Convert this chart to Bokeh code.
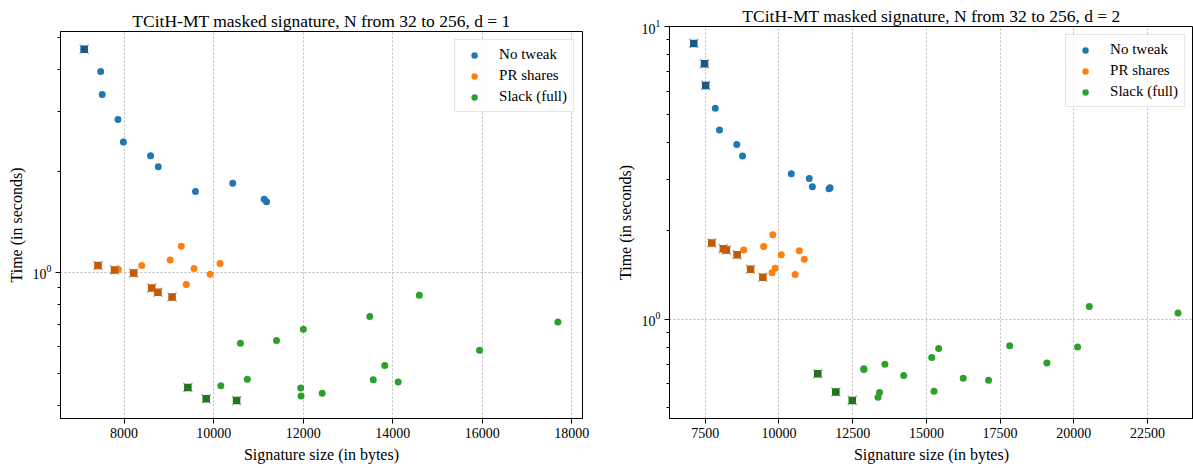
from bokeh.plotting import figure
from bokeh.layouts import row, column
from bokeh.models import FixedTicker, Range1d
from bokeh.embed import file_html
from bokeh.resources import INLINE

# ---------------- data: d = 1 ----------------
nt1_size = [7108, 7477, 7511, 7863, 7983, 8592, 8763, 9595, 10427, 11130, 11182]
nt1_time = [4.61, 3.96, 3.38, 2.85, 2.44, 2.22, 2.06, 1.74, 1.84, 1.65, 1.62]
nt1_pareto = [1, 0, 0, 0, 0, 0, 0, 0, 0, 0, 0]

pr1_size = [7417, 7786, 7871, 8214, 8394, 8617, 8755, 9072, 9029, 9278, 9389, 9561, 9921, 10144]
pr1_time = [1.047, 1.016, 1.019, 0.995, 1.047, 0.898, 0.872, 0.844, 1.088, 1.195, 0.919, 1.026, 0.986, 1.061]
pr1_pareto = [1, 1, 0, 1, 0, 1, 1, 1, 0, 0, 0, 0, 0, 0]

sl1_size = [14595, 13489, 17691, 12005, 10599, 11405, 15941, 13823, 10753, 13566, 14123, 10161, 9424, 11945, 12425, 11953, 9835, 10513]
sl1_time = [0.854, 0.738, 0.711, 0.677, 0.615, 0.626, 0.586, 0.528, 0.480, 0.479, 0.471, 0.459, 0.454, 0.452, 0.436, 0.428, 0.420, 0.415]
sl1_pareto = [0, 0, 0, 0, 0, 0, 0, 0, 0, 0, 0, 0, 1, 0, 0, 0, 1, 1]

# ---------------- data: d = 2 ----------------
nt2_size = [7109, 7474, 7513, 7839, 7982, 8568, 8763, 10417, 11028, 11133, 11700, 11732]
nt2_time = [8.75, 7.46, 6.29, 5.25, 4.43, 3.95, 3.61, 3.14, 3.02, 2.83, 2.79, 2.81]
nt2_pareto = [1, 1, 1, 0, 0, 0, 0, 0, 0, 0, 0, 0]

pr2_size = [7721, 8112, 8216, 8581, 8802, 9036, 9453, 9479, 9791, 9765, 9870, 10078, 10547, 10690, 10859]
pr2_time = [1.82, 1.74, 1.72, 1.66, 1.72, 1.48, 1.39, 1.77, 1.94, 1.44, 1.49, 1.66, 1.42, 1.71, 1.60]
pr2_pareto = [1, 1, 1, 1, 0, 1, 1, 0, 0, 0, 0, 0, 0, 0, 0]

sl2_size = [20526, 23534, 17825, 20129, 15416, 15182, 19088, 13593, 12877, 12880, 14231, 11315, 16250, 17109, 11927, 15260, 13411, 13359, 12487]
sl2_time = [1.104, 1.048, 0.810, 0.802, 0.793, 0.739, 0.707, 0.700, 0.676, 0.672, 0.641, 0.650, 0.627, 0.617, 0.563, 0.566, 0.561, 0.540, 0.527]
sl2_pareto = [0, 0, 0, 0, 0, 0, 0, 0, 0, 0, 0, 1, 0, 0, 1, 0, 0, 0, 1]

series_names = ["No tweak", "PR shares", "Slack (full)"]
colors = ["#1f77b4", "#ff7f0e", "#2ca02c"]
dark_colors = ["#175a8a", "#c25b08", "#1f761f"]

x_ticks_d1 = [8000, 10000, 12000, 14000, 16000, 18000]
x_ticks_d2 = [7500, 10000, 12500, 15000, 17500, 20000, 22500]
y_ticks_d1 = [1]
y_minor_d1 = [0.4, 0.5, 0.6, 0.7, 0.8, 0.9, 2, 3, 4, 5]
y_ticks_d2 = [1, 10]
y_minor_d2 = [0.5, 0.6, 0.7, 0.8, 0.9, 2, 3, 4, 5, 6, 7, 8, 9]

titles = ["TCitH-MT masked signature, N from 32 to 256, d = 1",
          "TCitH-MT masked signature, N from 32 to 256, d = 2"]
x_label = "Signature size (in bytes)"
y_label = "Time (in seconds)"

FONT = "Liberation Serif"


def make_fig(width, xr, yr, min_left, min_right, min_top, title, xt, yt, ymin, data):
    p = figure(width=width, height=468, x_range=Range1d(*xr), y_range=Range1d(*yr),
               y_axis_type="log", output_backend="svg", toolbar_location=None,
               min_border_left=min_left, min_border_right=min_right,
               min_border_top=min_top, min_border_bottom=50,
               background_fill_color="white", border_fill_color="white")
    p.title.text = title
    p.title.text_font = FONT
    p.title.text_font_size = "17.5px"
    p.title.text_font_style = "normal"
    p.title.align = "center"
    p.title.text_color = "black"
    p.title.standoff = 2

    p.outline_line_color = "black"
    p.outline_line_width = 1

    for ax in (p.xaxis, p.yaxis):
        ax.axis_line_color = "black"
        ax.major_tick_line_color = "black"
        ax.minor_tick_line_color = "black"
        ax.major_tick_out = 5
        ax.major_tick_in = 0
        ax.minor_tick_out = 3
        ax.minor_tick_in = 0
        ax.major_label_text_font = FONT
        ax.major_label_text_font_size = "14px"
        ax.major_label_text_color = "black"
        ax.axis_label_text_font = FONT
        ax.axis_label_text_font_size = "16px"
        ax.axis_label_text_font_style = "normal"
        ax.axis_label_text_color = "black"
        ax.major_label_standoff = 4
        ax.axis_label_standoff = 5
    p.xaxis.axis_label = x_label
    p.yaxis.axis_label = y_label
    p.xaxis.ticker = FixedTicker(ticks=xt)
    p.yaxis.ticker = FixedTicker(ticks=yt, minor_ticks=ymin)

    p.xgrid.ticker = FixedTicker(ticks=xt)
    p.ygrid.ticker = FixedTicker(ticks=yt)
    for g in (p.xgrid, p.ygrid):
        g.grid_line_color = "#a8a8a8"
        g.grid_line_dash = "2 2"
        g.grid_line_width = 0.8

    for (xs, ys, par), name, c, dc in zip(data, series_names, colors, dark_colors):
        p.scatter(xs, ys, size=7, fill_color=c, line_color=None, legend_label=name)
    for (xs, ys, par), name, c, dc in zip(data, series_names, colors, dark_colors):
        px = [x for x, f in zip(xs, par) if f]
        py = [y for y, f in zip(ys, par) if f]
        p.scatter(px, py, marker="x", size=13, line_color="#9a9a9a", line_alpha=0.85, line_width=1.3)
        p.scatter(px, py, marker="square", size=7.5, fill_color=dc, line_color=None)

    lg = p.legend[0]
    lg.location = "top_right"
    lg.label_text_font = FONT
    lg.label_text_font_size = "15px"
    lg.label_text_color = "black"
    lg.border_line_color = "#cccccc"
    lg.border_line_width = 1
    lg.background_fill_alpha = 0.85
    lg.padding = 6
    lg.margin = 8
    lg.glyph_width = 26
    lg.glyph_height = 16
    lg.label_standoff = 12
    lg.spacing = 4
    lg.label_height = 16
    return p


p1 = make_fig(600, (6579, 18241), (0.367, 5.206), 60, 18, 31, titles[0],
              x_ticks_d1, y_ticks_d1, y_minor_d1,
              [(nt1_size, nt1_time, nt1_pareto), (pr1_size, pr1_time, pr1_pareto),
               (sl1_size, sl1_time, sl1_pareto)])
p2 = make_fig(593, (6286, 24061), (0.457, 10.0), 69, 0, 26, titles[1],
              x_ticks_d2, y_ticks_d2, y_minor_d2,
              [(nt2_size, nt2_time, nt2_pareto), (pr2_size, pr2_time, pr2_pareto),
               (sl2_size, sl2_time, sl2_pareto)])

layout = row(column(p1), column(p2), spacing=0)
open("out.html", "w").write(file_html(layout, INLINE))
